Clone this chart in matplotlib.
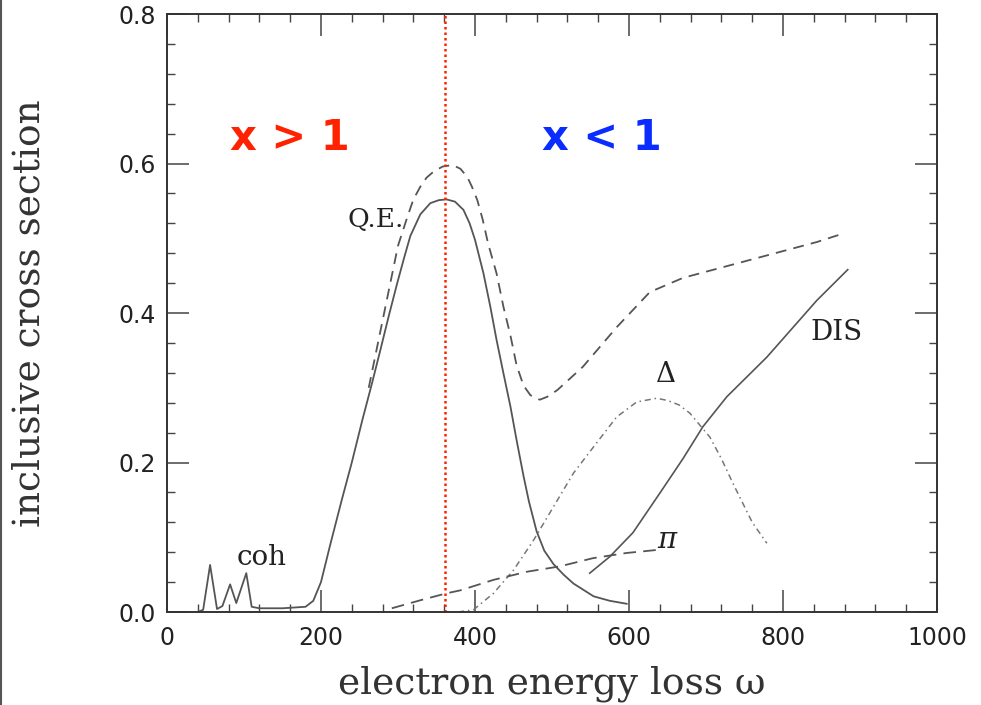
import matplotlib
matplotlib.use("Agg")
import matplotlib.pyplot as plt
from matplotlib.ticker import MultipleLocator, FormatStrFormatter

# solid quasi-elastic curve (incl. coherent peaks at low omega)
qe_x = [40, 47, 56, 65, 72, 82, 90, 103, 110, 120, 150, 180, 190, 200, 212,
        227, 240, 254, 266, 277, 288, 299, 308, 316, 329, 342, 353, 363, 374,
        385, 393, 400, 411, 420, 428, 437, 446, 454, 463, 470, 480, 490, 502,
        515, 528, 554, 575, 597]
qe_y = [0.0, 0.003, 0.063, 0.004, 0.008, 0.037, 0.012, 0.052, 0.007, 0.005,
        0.005, 0.007, 0.015, 0.04, 0.09, 0.15, 0.20, 0.258, 0.305, 0.350,
        0.396, 0.440, 0.474, 0.503, 0.532, 0.547, 0.551, 0.552, 0.549, 0.538,
        0.520, 0.498, 0.453, 0.408, 0.364, 0.319, 0.275, 0.230, 0.182, 0.148,
        0.108, 0.082, 0.064, 0.050, 0.038, 0.021, 0.015, 0.011]

# dashed total
tot_x = [262, 276, 290, 300, 312, 320, 329, 337, 346, 358, 371, 381, 390,
         396, 403, 410, 417, 428, 437, 446, 454, 463, 472, 484, 494, 507, 540,
         584, 627, 670, 757, 844, 880]
tot_y = [0.30, 0.37, 0.44, 0.49, 0.528, 0.552, 0.569, 0.581, 0.589, 0.596,
         0.598, 0.593, 0.582, 0.569, 0.551, 0.525, 0.493, 0.453, 0.408, 0.370,
         0.330, 0.303, 0.29, 0.284, 0.288, 0.297, 0.328, 0.381, 0.428, 0.447,
         0.471, 0.495, 0.507]

# deep inelastic
dis_x = [549, 575, 605, 640, 670, 696, 727, 779, 844, 884]
dis_y = [0.052, 0.074, 0.106, 0.159, 0.205, 0.248, 0.288, 0.341, 0.417,
         0.458]

# delta resonance
del_x = [378, 398, 424, 450, 476, 502, 528, 554, 584, 610, 636, 650, 665,
         679, 705, 720, 735, 760, 779]
del_y = [0.0, 0.003, 0.025, 0.056, 0.096, 0.141, 0.186, 0.221, 0.261, 0.281,
         0.286, 0.283, 0.277, 0.266, 0.234, 0.205, 0.172, 0.12, 0.092]

# pion production
pi_x = [292, 330, 363, 381, 424, 468, 510, 553, 597, 636]
pi_y = [0.005, 0.016, 0.025, 0.029, 0.043, 0.054, 0.061, 0.072, 0.079, 0.083]

x_boundary = 361

grey = "#555555"
serif = "DejaVu Serif"

fig = plt.figure(figsize=(9.81, 7.05), dpi=100)
ax = fig.add_axes([0.1702, 0.1319, 0.785, 0.8482])

ax.plot(qe_x, qe_y, color=grey, lw=1.3)
ax.plot(tot_x, tot_y, color=grey, lw=1.3, ls=(0, (6, 4)))
ax.plot(dis_x, dis_y, color=grey, lw=1.2)
ax.plot(del_x, del_y, color="#777777", lw=1.1, ls=(0, (4, 2.5, 1, 2.5)))
ax.plot(pi_x, pi_y, color=grey, lw=1.3, ls=(0, (7, 4)))
ax.axvline(x_boundary, color="#ff2200", lw=1.8, ls=(0, (1, 1.2)))

ax.text(123, 0.063, "coh", family=serif, fontsize=20, color="#222222",
        ha="center", va="baseline")
ax.text(271, 0.515, "Q.E.", family=serif, fontsize=19, color="#222222",
        ha="center", va="baseline")
ax.text(870, 0.364, "DIS", family=serif, fontsize=20, color="#222222",
        ha="center", va="baseline")
ax.text(648, 0.308, "Δ", family=serif, fontsize=20, color="#222222",
        ha="center", va="baseline")
ax.text(649, 0.086, "π", family=serif, fontsize=21, style="italic",
        color="#222222", ha="center", va="baseline")

ax.text(160, 0.618, "x > 1", fontsize=30, fontweight="bold", color="#ff2200",
        ha="center", va="baseline")
ax.text(565, 0.618, "x < 1", fontsize=30, fontweight="bold", color="#0a2cff",
        ha="center", va="baseline")

ax.set_xlim(0, 1000)
ax.set_ylim(0, 0.8)
ax.xaxis.set_major_locator(MultipleLocator(200))
ax.xaxis.set_minor_locator(MultipleLocator(40))
ax.yaxis.set_major_locator(MultipleLocator(0.2))
ax.yaxis.set_minor_locator(MultipleLocator(0.04))
ax.yaxis.set_major_formatter(FormatStrFormatter("%.1f"))

ax.tick_params(which="both", direction="in", top=True, right=True,
               color="#444444", labelsize=17, labelcolor="#222222")
ax.tick_params(which="major", length=16, width=1.1)
ax.tick_params(axis="x", which="major", pad=10)
ax.tick_params(axis="y", which="major", pad=8)
ax.tick_params(which="minor", length=6, width=1.0)
for s in ax.spines.values():
    s.set_color("#333333")
    s.set_linewidth(1.4)

ax.set_xlabel("electron energy loss ω", family=serif, fontsize=27,
              color="#333333", labelpad=11)
ax.set_ylabel("inclusive cross section", family=serif, fontsize=27,
              color="#333333", labelpad=51)

# thin border at left edge of the original screenshot
fig.add_artist(plt.Line2D([0.001, 0.001], [0, 1], color="#555555", lw=1.5,
                          transform=fig.transFigure))

fig.savefig("out.png", dpi=100)
